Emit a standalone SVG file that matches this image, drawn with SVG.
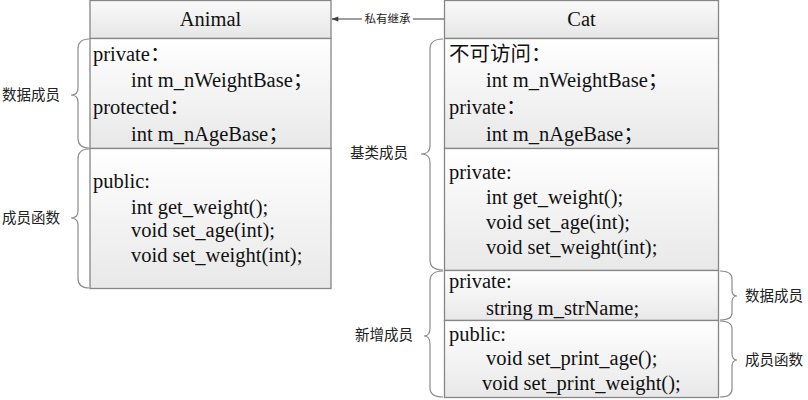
<svg xmlns="http://www.w3.org/2000/svg" width="808" height="400" viewBox="0 0 808 400">
<defs>
<linearGradient id="gh" x1="0" y1="0" x2="0" y2="1"><stop offset="0" stop-color="#fafafa"/><stop offset="1" stop-color="#e6e6e6"/></linearGradient>
<linearGradient id="gb" x1="0" y1="0" x2="0" y2="1"><stop offset="0" stop-color="#ffffff"/><stop offset="1" stop-color="#e8e8e8"/></linearGradient>
<marker id="ah" viewBox="0 0 10 10" refX="9" refY="5" markerWidth="8" markerHeight="7" orient="auto" markerUnits="userSpaceOnUse"><path d="M0 1.5 L10 5 L0 8.5 Z" fill="#404040"/></marker>
<style>
.box{stroke:#868686;stroke-width:1.3}
.h{fill:url(#gh)}
.b{fill:url(#gb)}
.t{font-family:"Liberation Serif","Noto Sans CJK SC",serif;font-size:20.5px;fill:#111}
.c{text-anchor:middle}
.l{font-family:"Noto Sans CJK SC","Noto Sans",sans-serif;font-size:14.5px;fill:#222}
.br{fill:none;stroke:#8c8c8c;stroke-width:1.2}
.cn{fill:none;stroke:#404040;stroke-width:1}
.al{font-family:"Noto Sans CJK SC","Noto Sans",sans-serif;font-size:11.5px;fill:#222;text-anchor:middle}
</style>
</defs>
<g id="animal">
<rect class="box h" x="90" y="0.5" width="241" height="38"/>
<rect class="box b" x="90" y="38.5" width="241" height="110"/>
<rect class="box b" x="90" y="148.5" width="241" height="140"/>
<text class="t c" x="210.5" y="26">Animal</text>
<text class="t" x="93" y="61">private：</text>
<text class="t" x="131" y="87">int m_nWeightBase；</text>
<text class="t" x="93" y="114">protected：</text>
<text class="t" x="131" y="141">int m_nAgeBase；</text>
<text class="t" x="93" y="188">public:</text>
<text class="t" x="131" y="214">int get_weight();</text>
<text class="t" x="131" y="237">void set_age(int);</text>
<text class="t" x="131" y="262">void set_weight(int);</text>
</g>
<g id="cat">
<rect class="box h" x="444.5" y="0.5" width="274" height="38"/>
<rect class="box b" x="444.5" y="38.5" width="274" height="110"/>
<rect class="box b" x="444.5" y="148.5" width="274" height="122"/>
<rect class="box b" x="444.5" y="270.5" width="274" height="50"/>
<rect class="box b" x="444.5" y="320.5" width="274" height="77"/>
<text class="t c" x="581.5" y="26">Cat</text>
<text class="t" x="449" y="61">不可访问：</text>
<text class="t" x="486" y="87">int m_nWeightBase；</text>
<text class="t" x="449" y="114">private：</text>
<text class="t" x="486" y="141">int m_nAgeBase；</text>
<text class="t" x="449" y="179">private:</text>
<text class="t" x="486" y="204">int get_weight();</text>
<text class="t" x="486" y="229">void set_age(int);</text>
<text class="t" x="486" y="254">void set_weight(int);</text>
<text class="t" x="449" y="288">private:</text>
<text class="t" x="486" y="315">string m_strName;</text>
<text class="t" x="449" y="341">public:</text>
<text class="t" x="486" y="365">void set_print_age();</text>
<text class="t" x="482" y="390">void set_print_weight();</text>
</g>
<g id="braces">
<path class="br" d="M89 39 Q78 39 78 49 V88 Q78 95 71 95 Q78 95 78 102 V138 Q78 148 89 148"/>
<path class="br" d="M89 149 Q78 149 78 159 V211 Q78 218 71 218 Q78 218 78 225 V278 Q78 288 89 288"/>
<path class="br" d="M443 39 Q430 39 430 49 V146 Q430 154 421 154 Q430 154 430 162 V260 Q430 270 443 270"/>
<path class="br" d="M443 271 Q430 271 430 281 V328 Q430 336 424 336 Q430 336 430 344 V388 Q430 397 443 397"/>
<path class="br" d="M720 271 Q732 271 732 279 V290 Q732 296 737 296 Q732 296 732 302 V313 Q732 320 720 320"/>
<path class="br" d="M720 321 Q732 321 732 329 V353 Q732 360 737 360 Q732 360 732 367 V389 Q732 397 720 397"/>
</g>
<g id="labels">
<text class="l" x="2" y="100">数据成员</text>
<text class="l" x="2" y="223">成员函数</text>
<text class="l" x="350" y="158">基类成员</text>
<text class="l" x="355" y="340">新增成员</text>
<text class="l" x="745" y="301">数据成员</text>
<text class="l" x="745" y="365">成员函数</text>
</g>
<g id="connectors">
<path class="cn" d="M444 19 H413 M362 19 H332" marker-end="url(#ah)"/>
<text class="al" x="387.5" y="23">私有继承</text>
</g>
</svg>
